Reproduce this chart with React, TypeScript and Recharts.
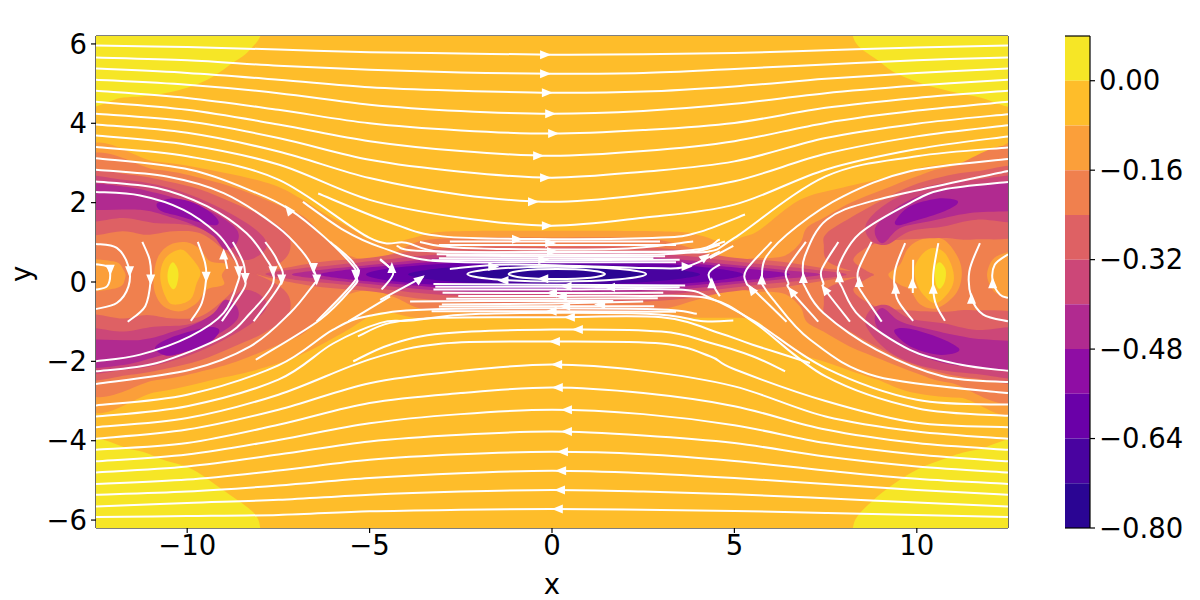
import { Bar, ComposedChart, ReferenceLine, Scatter, XAxis, YAxis } from "recharts";

type Pt = [number, number];

const xTicks = [-10, -5, 0, 5, 10];
const yTicks = [-6, -4, -2, 0, 2, 4, 6];
const xDomain = [-12.5, 12.5];
const yDomain = [-6.2, 6.2];

const colorbarTicks = [0, -0.16, -0.32, -0.48, -0.64, -0.8];
const bandWidths = [0.08, -0.08, -0.08, -0.08, -0.08, -0.08, -0.08, -0.08, -0.08, -0.08, -0.08];
const bandColors = ["#f6e626", "#febd2a", "#fb9f3a", "#f0804e", "#de6164", "#cc4778", "#b12a90", "#8f0da4", "#6a00a8", "#4903a0", "#2a0593"];

// filled contour outlines, in x/y of the plot
const base: Pt[] = [[-14, -8], [14, -8], [14, 8], [-14, 8]];
const yellowTL: Pt[] = [[-13, 7], [-8, 6.6], [-8, 6.19], [-8.36, 5.78], [-8.74, 5.53], [-9.29, 5.18], [-9.92, 4.92], [-10.83, 4.72], [-11.76, 4.65], [-13, 4.55]];
const yellowTR: Pt[] = [[13, 7], [8.2, 6.6], [8.25, 6.19], [8.44, 5.91], [8.91, 5.6], [9.35, 5.3], [10, 5.05], [10.72, 4.85], [11.65, 4.67], [13, 4.55]];
const yellowBL: Pt[] = [[-13, -7], [-8, -6.6], [-8, -6.19], [-8.09, -5.92], [-8.36, -5.67], [-9.02, -5.24], [-9.84, -4.73], [-10.66, -4.48], [-11.48, -4.23], [-13, -4.12]];
const yellowBR: Pt[] = [[13, -7], [8.2, -6.6], [8.25, -6.19], [8.36, -5.92], [8.72, -5.57], [9.26, -5.16], [10, -4.73], [10.9, -4.41], [11.65, -4.23], [13, -4.15]];

const outer1: Pt[] = [[-13, 3.08], [-10.83, 3.03], [-9.02, 2.76], [-7.65, 2.45], [-6.83, 2.07], [-6.28, 1.75], [-5.45, 1.32], [-4.99, 1.07], [-4.39, 0.99], [-3.76, 1.12], [-2.88, 1.27], [0, 1.29], [3.23, 1.27], [4.06, 1.17], [4.74, 0.99], [5.24, 1.14], [5.7, 1.32], [6.8, 2.07], [7.98, 2.38], [9.26, 2.65], [10.28, 2.91], [11.65, 3.03], [13, 3.13], [13, -2.92], [11.18, -2.92], [9.81, -2.77], [8.91, -2.46], [8.25, -2.26], [7.54, -2.03], [6.61, -1.76], [5.98, -1.33], [5.51, -0.95], [4.06, -0.9], [0, -0.9], [-2.71, -0.9], [-3.76, -0.9], [-4.44, -0.77], [-4.91, -0.82], [-5.73, -1.28], [-6.99, -1.88], [-8.09, -2.21], [-9.02, -2.41], [-10.83, -2.77], [-13, -2.89]];
const outer2: Pt[] = [[-13, 2.87], [-10.83, 2.83], [-9.46, 2.58], [-8.55, 2.33], [-7.63, 1.99], [-6.81, 1.65], [-6.26, 1.15], [-5.72, 0.73], [-4.99, 0.56], [-4.3, 0.75], [-3.5, 1.05], [-2, 1.12], [0, 1.12], [2, 1.12], [3, 1.05], [4, 0.8], [4.9, 0.55], [5.52, 0.6], [6.34, 0.65], [6.8, 0.98], [6.98, 1.36], [7.44, 1.61], [8.17, 1.99], [9.08, 2.33], [9.99, 2.66], [10.91, 2.9], [13, 3.04], [13, -2.68], [10.91, -2.54], [9.99, -2.3], [9.08, -1.97], [8.17, -1.63], [7.44, -1.25], [6.98, -1], [6.8, -0.62], [6.34, -0.29], [5.52, -0.24], [4.9, -0.2], [4, -0.44], [3, -0.69], [2, -0.76], [0, -0.76], [-2, -0.76], [-3.5, -0.69], [-4.3, -0.39], [-4.99, -0.2], [-5.72, -0.37], [-6.26, -0.79], [-6.81, -1.29], [-7.63, -1.63], [-8.55, -1.97], [-9.46, -2.22], [-10.83, -2.47], [-13, -2.51]];

// hills inside the lobes
const edgeL1: Pt[] = [[-13, 0.52], [-12.02, 0.52], [-11.75, 0.31], [-11.7, 0.1], [-11.93, -0.15], [-13, -0.19]];
const hillL1: Pt[] = [[-10.92, 0.14], [-10.79, 0.65], [-10.47, 0.94], [-10.01, 1], [-9.64, 0.82], [-9.37, 0.52], [-8.91, 0.44], [-9.05, 0.18], [-9, -0.07], [-9.46, -0.19], [-9.74, -0.53], [-10.19, -0.74], [-10.65, -0.61], [-10.88, -0.28]];
const hillL0: Pt[] = [[-10.74, 0.14], [-10.6, 0.6], [-10.19, 0.82], [-9.92, 0.65], [-9.64, 0.27], [-9.74, -0.03], [-9.92, -0.45], [-10.38, -0.57], [-10.6, -0.36]];
const hillLY: Pt[] = [[-10.39, 0.5], [-10.27, 0.35], [-10.24, 0.14], [-10.3, -0.11], [-10.39, -0.18], [-10.51, -0.03], [-10.54, 0.18], [-10.49, 0.39]];
const edgeR1: Pt[] = [[12.92, 0.7], [12.19, 0.65], [11.93, 0.23], [12.05, -0.15], [12.28, -0.32], [12.92, -0.4]];
const hillR1: Pt[] = [[9.22, 0.18], [9.54, 0.44], [9.77, 0.86], [10.18, 1.09], [10.73, 1.07], [11.14, 0.6], [11.23, 0.14], [11.05, -0.32], [10.54, -0.66], [10.09, -0.56], [9.81, -0.19], [9.54, -0.07]];
const hillR0: Pt[] = [[9.95, 0.39], [10.18, 0.73], [10.45, 0.86], [10.77, 0.73], [11, 0.27], [10.95, -0.15], [10.54, -0.53], [10.18, -0.32], [9.98, 0.02]];
const hillRY: Pt[] = [[10.5, 0.35], [10.63, 0.5], [10.79, 0.31], [10.77, 0.02], [10.63, -0.17], [10.52, -0.03]];

// crescents in the four lobes
const c3TL: Pt[] = [[-13, 2.75], [-11.56, 2.7], [-10.56, 2.54], [-9.64, 2.33], [-8.73, 1.99], [-7.91, 1.65], [-7.27, 1.23], [-7.18, 0.81], [-7.45, 0.48], [-8.09, 0.18], [-8.55, 0.14], [-8.59, 0.39], [-9, 0.81], [-9.64, 1.23], [-10.38, 1.28], [-11.11, 1.19], [-11.75, 1.28], [-13, 1.27]];
const c3BL: Pt[] = [[-13, -2.39], [-11.56, -2.34], [-10.56, -2.18], [-9.64, -1.97], [-8.73, -1.63], [-7.91, -1.29], [-7.27, -0.87], [-7.18, -0.45], [-7.45, -0.12], [-8.09, 0.18], [-8.55, 0.22], [-8.59, -0.03], [-9, -0.45], [-9.64, -0.87], [-10.38, -0.92], [-11.11, -0.83], [-11.75, -0.92], [-13, -0.91]];
const c3TR: Pt[] = [[13, 2.83], [11.64, 2.79], [10.73, 2.66], [9.81, 2.41], [8.9, 1.99], [8.17, 1.61], [7.53, 1.23], [7.45, 0.94], [7.62, 0.48], [8.81, 0.16], [8.26, 0.56], [8.9, 0.98], [9.72, 1.07], [10.73, 1.11], [11.55, 1.07], [13, 1.28]];
const c3BR: Pt[] = [[13, -2.47], [11.64, -2.43], [10.73, -2.3], [9.81, -2.05], [8.9, -1.63], [8.17, -1.25], [7.53, -0.87], [7.45, -0.58], [7.62, -0.12], [8.81, 0.2], [8.26, -0.2], [8.9, -0.62], [9.72, -0.71], [10.73, -0.75], [11.55, -0.71], [13, -0.92]];

const c4TL: Pt[] = [[-13, 2.62], [-11.75, 2.58], [-10.83, 2.45], [-9.92, 2.2], [-9, 1.82], [-8.18, 1.36], [-7.82, 0.98], [-8, 0.69], [-8.46, 0.56], [-8.91, 0.9], [-9.37, 1.23], [-10.01, 1.44], [-10.92, 1.49], [-11.75, 1.61], [-13, 1.57]];
const c4BL: Pt[] = [[-13, -2.26], [-11.75, -2.22], [-10.83, -2.09], [-9.92, -1.84], [-9, -1.46], [-8.18, -1], [-7.82, -0.62], [-8, -0.33], [-8.46, -0.2], [-8.91, -0.54], [-9.37, -0.87], [-10.01, -1.08], [-10.92, -1.13], [-11.75, -1.25], [-13, -1.21]];
const c4TR: Pt[] = [[13, 2.62], [11.64, 2.58], [10.27, 2.41], [9.26, 2.03], [8.62, 1.49], [8.72, 1.07], [9.17, 0.94], [9.81, 1.28], [10.73, 1.4], [11.64, 1.57], [13, 1.57]];
const c4BR: Pt[] = [[13, -2.36], [11.64, -2.32], [10.27, -2.15], [9.26, -1.77], [8.62, -1.13], [8.72, -0.71], [9.17, -0.58], [9.81, -0.92], [10.73, -1.04], [11.64, -1.21], [13, -1.21]];

const c5TL: Pt[] = [[-13, 2.45], [-11.75, 2.41], [-10.83, 2.24], [-9.92, 1.99], [-9.19, 1.7], [-8.64, 1.32], [-8.64, 0.98], [-8.96, 0.81], [-9.28, 1.15], [-9.74, 1.4], [-10.38, 1.61], [-11.29, 1.82], [-13, 1.86]];
const c5BL: Pt[] = [[-13, -2.13], [-11.75, -2.09], [-10.83, -1.88], [-9.92, -1.63], [-9.19, -1.34], [-8.64, -0.96], [-8.64, -0.62], [-8.96, -0.45], [-9.28, -0.79], [-9.74, -1.04], [-10.38, -1.25], [-11.29, -1.46], [-13, -1.5]];
const c5TR: Pt[] = [[13, 2.48], [11.64, 2.43], [10.63, 2.33], [9.72, 2.03], [8.99, 1.53], [8.85, 1.23], [9.08, 0.98], [9.54, 1.36], [10.36, 1.53], [11.46, 1.74], [13, 1.86]];
const c5BR: Pt[] = [[13, -2.2], [11.46, -2.14], [10.54, -2], [9.63, -1.66], [8.99, -1.24], [8.85, -0.87], [9.08, -0.66], [9.54, -0.99], [10.36, -1.2], [11.46, -1.41], [13, -1.58]];

const c6TL: Pt[] = [[-10.83, 1.97], [-10.47, 2.1], [-9.92, 2.03], [-9.46, 1.82], [-9.16, 1.57], [-9.21, 1.43], [-9.64, 1.5], [-10.19, 1.65], [-10.7, 1.78]];
const c6BL: Pt[] = [[-10.88, -1.66], [-10.47, -1.41], [-9.55, -1.16], [-9.19, -1.16], [-9.14, -1.29], [-9.46, -1.58], [-10.01, -1.75], [-10.56, -1.86]];
const c6TR: Pt[] = [[9.42, 1.55], [9.81, 1.91], [10.54, 2.1], [11.05, 2.07], [11.09, 1.95], [10.63, 1.74], [9.9, 1.53], [9.49, 1.43]];
const c6BR: Pt[] = [[9.4, -1.2], [9.81, -1.18], [10.63, -1.41], [11.14, -1.66], [11.05, -1.79], [10.54, -1.83], [9.9, -1.66], [9.49, -1.39]];

// the central strip
const strip3: Pt[] = [[-8.1, 0.22], [-7.4, 0.34], [-6.3, 0.51], [-5, 0.61], [-3.5, 0.81], [-2, 0.89], [0, 0.89], [2, 0.89], [3.5, 0.81], [5, 0.61], [6.3, 0.51], [7.5, 0.34], [8.81, 0.2], [7.5, 0.04], [6.3, -0.13], [5, -0.23], [3.5, -0.43], [2, -0.51], [0, -0.51], [-2, -0.51], [-3.5, -0.43], [-5, -0.23], [-6.3, -0.13], [-7.4, 0.04]];
const strip4: Pt[] = [[-7.86, 0.2], [-7, 0.33], [-6, 0.42], [-5, 0.52], [-3.5, 0.67], [-2, 0.74], [0, 0.74], [2, 0.74], [3.5, 0.67], [5, 0.52], [6, 0.42], [7, 0.33], [8.08, 0.19], [7, 0.05], [6, -0.04], [5, -0.14], [3.5, -0.29], [2, -0.36], [0, -0.36], [-2, -0.36], [-3.5, -0.29], [-5, -0.14], [-6, -0.04], [-7, 0.05]];
const strip5: Pt[] = [[-7.13, 0.19], [-6.3, 0.31], [-5, 0.43], [-3.5, 0.57], [-2, 0.64], [0, 0.64], [2, 0.64], [3.5, 0.57], [5, 0.43], [6.3, 0.31], [7.35, 0.19], [6.3, 0.07], [5, -0.05], [3.5, -0.19], [2, -0.26], [0, -0.26], [-2, -0.26], [-3.5, -0.19], [-5, -0.05], [-6.3, 0.07]];
const strip6: Pt[] = [[-6.36, 0.19], [-5.5, 0.32], [-4.5, 0.41], [-3, 0.52], [-1.5, 0.57], [0, 0.57], [1.5, 0.57], [3, 0.52], [4.5, 0.41], [5.5, 0.32], [6.52, 0.19], [5.5, 0.06], [4.5, -0.03], [3, -0.14], [1.5, -0.19], [0, -0.19], [-1.5, -0.19], [-3, -0.14], [-4.5, -0.03], [-5.5, 0.06]];
const strip7: Pt[] = [[-5.1, 0.19], [-4.5, 0.34], [-3, 0.46], [-1.5, 0.52], [0, 0.52], [1.5, 0.52], [3, 0.46], [4.5, 0.34], [5.24, 0.19], [4.5, 0.04], [3, -0.08], [1.5, -0.14], [0, -0.14], [-1.5, -0.14], [-3, -0.08], [-4.5, 0.04]];
const strip8: Pt[] = [[-3.94, 0.19], [-3, 0.35], [-1.5, 0.43], [0, 0.45], [1.5, 0.43], [3, 0.35], [4.06, 0.19], [3, 0.03], [1.5, -0.05], [0, -0.07], [-1.5, -0.05], [-3, 0.03]];
const strip9: Pt[] = [[-2.29, 0.19], [-1, 0.34], [0.13, 0.36], [1.3, 0.34], [2.55, 0.19], [1.3, 0.04], [0.13, 0.02], [-1, 0.04]];

// long streamlines share one set of x values
const streamX = [-12.5, -10, -7.5, -5, -2.5, 0, 2.5, 5, 7.5, 10, 12.5];
const longLines = [
  [5.96, 5.92, 5.86, 5.79, 5.76, 5.73, 5.74, 5.77, 5.84, 5.91, 5.96],
  [5.66, 5.59, 5.45, 5.35, 5.28, 5.25, 5.27, 5.37, 5.48, 5.59, 5.66],
  [5.38, 5.27, 5.1, 4.91, 4.82, 4.77, 4.8, 4.93, 5.12, 5.27, 5.38],
  [5.1, 4.97, 4.76, 4.47, 4.31, 4.24, 4.31, 4.49, 4.76, 4.95, 5.1],
  [4.82, 4.64, 4.34, 4, 3.82, 3.74, 3.83, 4.01, 4.39, 4.64, 4.82],
  [4.54, 4.34, 3.97, 3.55, 3.3, 3.18, 3.3, 3.55, 4.01, 4.32, 4.54],
  [4.24, 4.05, 3.63, 3.08, 2.78, 2.63, 2.78, 3.04, 3.63, 3.99, 4.23],
  [3.97, 3.76, 3.29, 2.62, 2.2, 2.02, 2.2, 2.54, 3.23, 3.67, 3.95],
  [3.69, 3.46, 2.96, 2.07, 1.62, 1.42, 1.62, 1.95, 2.83, 3.35, 3.67],
  [-5.92, -5.9, -5.87, -5.78, -5.74, -5.72, -5.74, -5.77, -5.82, -5.87, -5.92],
  [-5.66, -5.57, -5.49, -5.36, -5.28, -5.24, -5.28, -5.35, -5.45, -5.56, -5.66],
  [-5.36, -5.28, -5.13, -4.94, -4.82, -4.76, -4.82, -4.94, -5.09, -5.24, -5.36],
  [-5.09, -4.98, -4.75, -4.48, -4.34, -4.28, -4.34, -4.51, -4.75, -4.96, -5.09],
  [-4.8, -4.65, -4.35, -4.02, -3.85, -3.77, -3.87, -4.06, -4.4, -4.65, -4.8],
  [-4.52, -4.35, -3.98, -3.56, -3.33, -3.22, -3.33, -3.61, -4.06, -4.35, -4.52],
  [-4.23, -4.06, -3.6, -3.05, -2.8, -2.66, -2.8, -3.13, -3.72, -4.06, -4.23],
  [-3.95, -3.72, -3.22, -2.55, -2.24, -2.08, -2.24, -2.63, -3.39, -3.77, -3.95],
];

const innerLines: Pt[][] = [
  [[-12.5, 3.4], [-10, 3.17], [-7.5, 2.58], [-5, 1.11], [-4, 0.99], [-3, 0.76], [0, 0.76], [3, 0.76], [4.3, 0.77], [5, 1.11], [7.5, 2.66], [10, 3.17], [12.5, 3.39]],
  [[-6.41, 2.23], [-4.44, 1.5], [-3, 1.15], [0, 1.08], [3, 1.12], [4, 1.25], [5.29, 1.7]],
  [[-6.83, 2.02], [-5.7, 1.3], [-4.7, 0.88], [-3.2, 0.53], [0, 0.5], [3.4, 0.5]],
  [[-5.32, -1.37], [-4.44, -1.03], [-3, -0.9], [0, -0.89], [3, -0.89], [4.6, -1.29], [5.5, -1.58], [7.07, -2.04]],
  [[-5.45, -2], [-4.44, -1.58], [-3, -1.3], [0, -1.2], [3, -1.25], [4.33, -1.53], [5.5, -1.87], [6.39, -2.25]],
  [[-12.5, -3.66], [-10, -3.43], [-7.5, -2.84], [-5, -1.95], [-3, -1.55], [0, -1.5], [3, -1.55], [4.33, -1.87], [5, -2.2], [7.5, -3], [10, -3.55], [12.5, -3.66]],
  [[-12.5, -3.39], [-10, -3.13], [-7.5, -2.46], [-6, -1.55], [-4.7, -1.03], [-3.85, -0.97], [-1.97, -0.8], [2.6, -0.8], [4.15, -0.99], [4.97, -0.97]],
  [[-12.5, -3.11], [-10, -2.84], [-7.5, -2.1], [-6, -1.2], [-5, -0.85], [-3.02, -0.68], [2.6, -0.68], [3.97, -0.8]],
  [[-3.25, -0.19], [0, -0.19], [3.42, -0.19], [4.33, -0.4], [5.56, -1], [7.5, -2.17], [10, -2.97], [12.5, -3.09]],
  [[-2.57, -0.35], [0, -0.35], [2.5, -0.35], [4.33, -0.42], [5.56, -1.03], [7.5, -2.38], [10, -3.18], [12.5, -3.37]],
];

const stripLines: Pt[][] = [
  [[-2.8, 1.02], [0, 1.02], [2.96, 1.02]],
  [[-3.62, 1.01], [-2.43, 0.86], [1.68, 0.83], [3.87, 1.02]],
  [[-4.26, 0.91], [-3.16, 0.77], [3.33, 0.77], [4.6, 1.07]],
  [[-3.16, 0.7], [3.05, 0.7], [4.6, 0.94]],
  [[-3.1, 0.6], [2.78, 0.6]],
  [[-3.1, 0.93], [0, 0.93], [3.4, 0.93]],
  [[-2.9, 0.66], [0, 0.65], [3.1, 0.65]],
  [[-3.3, 0.55], [0, 0.55], [3.5, 0.56]],
  [[-2.8, 0.33], [-1.06, 0.44], [2.6, 0.35], [3.69, 0.39], [4.6, 0.77]],
  [[-3.25, -0.05], [0, -0.07], [3.65, -0.09]],
  [[-3.2, -0.12], [0, -0.12], [3.5, -0.13]],
  [[-3, -0.27], [0, -0.28], [3.05, -0.27]],
  [[-2.9, -0.42], [0, -0.42], [2.9, -0.41]],
  [[-3.89, -0.49], [-2, -0.48], [1.68, -0.48]],
  [[-3.02, -0.57], [0, -0.54], [2.5, -0.49]],
  [[-3.1, -0.62], [0, -0.61], [2.8, -0.61]],
  [[-3.3, -0.74], [0, -0.74], [3.4, -0.75]],
  [[-4.71, -0.45], [-3.53, 0.13]],
  [[-4.71, 0.56], [-4.35, 0.23], [-4.67, -0.19]],
  [[4.6, 0.44], [4.29, 0.18], [4.6, -0.36]],
  [[-4.71, 0.58], [-4.44, 0.35]],
  [[-5.58, -0.99], [-4.44, -0.36]],
  [[4.97, 0.91], [4.33, 0.6]],
  [[4.74, 1.02], [4.33, 0.9]],
];

const closedLoops: Pt[][] = [
  [[-2.32, 0.2], [-1.6, 0.33], [0.13, 0.385], [1.86, 0.33], [2.58, 0.2], [1.86, 0.07], [0.13, 0.015], [-1.6, 0.07]],
  [[-1.19, 0.2], [-0.8, 0.29], [0.13, 0.325], [1.06, 0.29], [1.45, 0.2], [1.06, 0.11], [0.13, 0.075], [-0.8, 0.11]],
];

const leftArcs: Pt[][] = [
  [[-12.5, 2.27], [-11.29, 2.18], [-10.1, 1.82], [-9.19, 1.23], [-8.78, 0.73], [-8.59, 0.35], [-8.59, 0.06], [-9, -0.78], [-9.92, -1.37], [-11.29, -1.83], [-12.5, -2]],
  [[-8.75, 1.01], [-8.46, 0.48], [-8.41, 0.06], [-8.46, -0.19], [-9.05, -0.99]],
  [[-12.5, 2.53], [-10.83, 2.37], [-9.46, 1.91], [-8.37, 1.23], [-7.82, 0.56], [-7.65, 0.27], [-7.68, -0.11], [-8.27, -0.78], [-9, -1.37], [-10.83, -2.04], [-12.5, -2.25]],
  [[-7.86, 1.01], [-7.54, 0.56], [-7.41, 0.02], [-8.18, -0.99]],
  [[-12.5, 2.83], [-10.56, 2.66], [-9, 2.24], [-7.54, 1.4], [-6.81, 0.73], [-6.54, 0.31], [-6.45, 0.06], [-6.54, -0.07], [-7.18, -0.78], [-8.27, -1.62], [-9.92, -2.21], [-12.5, -2.57]],
  [[-12.5, 3.12], [-9.92, 2.83], [-8.09, 2.24], [-7.18, 1.82], [-6.26, 1.15], [-5.44, 0.39], [-5.35, 0.1], [-5.44, -0.11], [-6.36, -0.95], [-8.12, -1.96]],
  [[-6.08, 1.01], [-5.44, 0.48], [-5.38, 0.06], [-6.45, -0.99]],
  [[-12.5, 0.45], [-12.2, 0.39], [-12.11, 0.18], [-12.2, -0.11], [-12.5, -0.19]],
  [[-12.5, 0.96], [-11.93, 0.86], [-11.61, 0.39], [-11.61, -0.11], [-11.93, -0.53], [-12.5, -0.68]],
  [[-11.23, 1.01], [-11.03, 0.56], [-11, 0.06], [-11.15, -0.61], [-11.63, -1]],
  [[-9.71, 1.01], [-9.51, 0.48], [-9.48, 0.1], [-9.6, -0.53], [-9.9, -0.98]],
  [[-9, 0.77], [-8.9, 0.33]],
];

const rightArcs: Pt[][] = [
  [[12.5, 3.1], [9.81, 2.79], [7.98, 2.16], [6.71, 1.4], [5.88, 0.65], [5.75, 0.1], [5.75, -0.03], [6.07, -0.45], [7.07, -1.45], [8.9, -2.38], [12.5, -2.8]],
  [[12.5, 2.8], [8.9, 2.07], [7.53, 1.57], [6.93, 0.65], [6.89, 0.1], [6.93, -0.11], [7.44, -0.78], [8.9, -1.71], [10.73, -2.38], [12.5, -2.52]],
  [[12.5, 2.52], [10.73, 2.33], [9.81, 1.99], [8.44, 1.23], [7.89, 0.48], [7.85, 0.1], [7.94, -0.11], [8.44, -0.87], [9.81, -1.71], [11.18, -2.08], [12.5, -2.24]],
  [[6.02, 1.01], [5.33, 0.31], [5.33, -0.03], [5.52, -0.19], [6.43, -1]],
  [[6.96, 1.01], [6.43, 0.31], [6.48, -0.03], [6.52, -0.19], [7.3, -1]],
  [[7.85, 1.01], [7.39, 0.31], [7.44, -0.03], [7.48, -0.19], [8.17, -1]],
  [[8.76, 1.01], [8.4, 0.31], [8.4, -0.03], [8.44, -0.19], [9.04, -1]],
  [[9.68, 0.98], [9.4, 0.27], [9.45, -0.4], [9.9, -0.98]],
  [[9.9, 0.56], [9.89, -0.28]],
  [[10.59, 0.98], [10.45, 0.18], [10.5, -0.49], [10.77, -0.98]],
  [[11.73, 0.98], [11.44, 0.27], [11.5, -0.4], [11.82, -0.82], [12.5, -0.99]],
  [[12.5, 0.7], [12.14, 0.44], [12.08, 0.02], [12.28, -0.32], [12.5, -0.4]],
];

// arrow heads: x, y and the flow direction there
const arrowsRight: Pt[] = [[-0.19, 5.73], [-0.19, 5.25], [-0.14, 4.77], [-0.05, 4.24], [0.03, 3.74], [-0.38, 3.18], [-0.19, 2.63], [-0.52, 2.02], [-0.14, 1.42], [-0.96, 1.08], [-1.61, 0.39], [3.69, 0.39], [-0.05, 0.98], [0, 0.77], [-0.24, 0.56]];
const arrowsLeft: Pt[] = [[0.16, -5.72], [0.22, -5.24], [0.25, -4.76], [0.3, -4.28], [0.41, -3.77], [0.41, -3.22], [0.16, -2.66], [0.14, -2.08], [0.08, -1.5], [0.71, -1.2], [0.49, -0.89], [-1.33, 0.04], [-0.24, 0.08], [1.59, -0.13], [1.32, -0.57], [-0.01, -0.74], [0.4, -0.11], [0, -0.28], [0.27, -0.36], [0.36, -0.61]];
const arrowsDown: Pt[] = [[-12.11, 0.31], [-11.58, 0.27], [-11, 0.06], [-9.48, 0.13], [-8.59, 0.27], [-8.41, 0.1], [-7.65, 0.27], [-7.41, 0.06], [-6.54, 0.35], [-6.45, 0.06], [-5.38, 0.18]];
const arrowsUp: Pt[] = [[-9, 0.69], [-4.39, 0.35], [4.38, -0.03], [5.75, 0.06], [6.89, 0.1], [7.88, 0.12], [8.42, 0], [9.42, -0.17], [9.88, -0.03], [10.45, -0.17], [11.5, -0.42], [12.08, -0.03]];
const arrowsUpLeft: Pt[] = [[-7.22, 1.82], [5.47, -0.19], [6.57, -0.24], [7.48, -0.19]];
const arrowsUpRight: Pt[] = [[-3.62, 0.08], [4.2, 0.63]];

const contourLayers: { color: string; shapes: Pt[][] }[] = [
  { color: bandColors[1], shapes: [base] },
  { color: bandColors[0], shapes: [yellowTL, yellowTR, yellowBL, yellowBR] },
  { color: bandColors[2], shapes: [outer1] },
  { color: bandColors[3], shapes: [outer2] },
  { color: bandColors[2], shapes: [edgeL1, hillL1, edgeR1, hillR1] },
  { color: bandColors[1], shapes: [hillL0, hillR0] },
  { color: bandColors[0], shapes: [hillLY, hillRY] },
  { color: bandColors[4], shapes: [c3TL, c3BL, c3TR, c3BR, strip3] },
  { color: bandColors[5], shapes: [c4TL, c4BL, c4TR, c4BR, strip4] },
  { color: bandColors[6], shapes: [c5TL, c5BL, c5TR, c5BR, strip5] },
  { color: bandColors[7], shapes: [c6TL, c6BL, c6TR, c6BR, strip6] },
  { color: bandColors[8], shapes: [strip7] },
  { color: bandColors[9], shapes: [strip8] },
  { color: bandColors[10], shapes: [strip9] },
];

const arrowGroups: { dx: number; dy: number; points: Pt[] }[] = [
  { dx: 1, dy: 0, points: arrowsRight },
  { dx: -1, dy: 0, points: arrowsLeft },
  { dx: 0, dy: -1, points: arrowsDown },
  { dx: 0, dy: 1, points: arrowsUp },
  { dx: -0.6, dy: 0.8, points: arrowsUpLeft },
  { dx: 0.8, dy: 0.6, points: arrowsUpRight },
];

const FONT = "'DejaVu Sans', sans-serif";
const tickStyle = { fontFamily: FONT, fontSize: 27.5, fill: "#000" };
const minus = (s: string) => s.replace("-", "\u2212");

const toRows = (pts: Pt[]) => pts.map(([x, y]) => ({ x, y }));
const allLines: Pt[][] = [
  ...longLines.map((ys) => ys.map((y, i) => [streamX[i], y] as Pt)),
  ...innerLines,
  ...stripLines,
  ...leftArcs,
  ...rightArcs,
];

// catmull-rom through the scaled points
function smoothPath(points: { x: number; y: number }[], closed: boolean) {
  const n = points.length;
  const at = (i: number) => (closed ? points[(i + n) % n] : points[Math.max(0, Math.min(n - 1, i))]);
  let d = `M${points[0].x},${points[0].y}`;
  const last = closed ? n : n - 1;
  for (let i = 0; i < last; i++) {
    const p0 = at(i - 1);
    const p1 = at(i);
    const p2 = at(i + 1);
    const p3 = at(i + 2);
    const c1x = p1.x + (p2.x - p0.x) / 6;
    const c1y = p1.y + (p2.y - p0.y) / 6;
    const c2x = p2.x - (p3.x - p1.x) / 6;
    const c2y = p2.y - (p3.y - p1.y) / 6;
    d += `C${c1x},${c1y} ${c2x},${c2y} ${p2.x},${p2.y}`;
  }
  return closed ? d + "Z" : d;
}

const noDot = () => <g />;

function arrowShape(dx: number, dy: number) {
  return (props: any) => {
    const angle = (Math.atan2(-dy, dx) * 180) / Math.PI;
    return (
      <path
        d="M6,0L-5,-4.5L-5,4.5Z"
        fill="#fff"
        transform={`translate(${props.cx},${props.cy}) rotate(${angle})`}
      />
    );
  };
}

function FieldChart() {
  return (
    <ComposedChart width={1030} height={600} margin={{ top: 36, right: 22, bottom: 0, left: 0 }}>
      {contourLayers.flatMap((layer, li) =>
        layer.shapes.map((shape, si) => (
          <Scatter
            key={`band-${li}-${si}`}
            data={toRows(shape)}
            isAnimationActive={false}
            shape={noDot}
            line={(p: any) => <path d={smoothPath(p.points, true)} fill={layer.color} stroke="none" />}
          />
        ))
      )}
      {allLines.map((pts, i) => (
        <Scatter
          key={`line-${i}`}
          data={toRows(pts)}
          isAnimationActive={false}
          shape={noDot}
          line={(p: any) => <path d={smoothPath(p.points, false)} fill="none" stroke="#fff" strokeWidth={2} />}
        />
      ))}
      {closedLoops.map((pts, i) => (
        <Scatter
          key={`loop-${i}`}
          data={toRows(pts)}
          isAnimationActive={false}
          shape={noDot}
          line={(p: any) => <path d={smoothPath(p.points, true)} fill="none" stroke="#fff" strokeWidth={2} />}
        />
      ))}
      {arrowGroups.map((g, i) => (
        <Scatter key={`arrows-${i}`} data={toRows(g.points)} isAnimationActive={false} shape={arrowShape(g.dx, g.dy)} />
      ))}
      <ReferenceLine y={yDomain[1]} stroke="#000" strokeWidth={1.2} />
      <ReferenceLine x={xDomain[1]} stroke="#000" strokeWidth={1.2} />
      <XAxis
        type="number"
        dataKey="x"
        domain={xDomain}
        allowDataOverflow
        ticks={xTicks}
        height={72}
        tickSize={5}
        tickMargin={2}
        tick={tickStyle}
        stroke="#000"
        strokeWidth={1.2}
        tickFormatter={(v: number) => minus(String(v))}
        label={{ value: "x", position: "insideBottom", offset: 6, style: tickStyle }}
      />
      <YAxis
        type="number"
        dataKey="y"
        domain={yDomain}
        allowDataOverflow
        ticks={yTicks}
        width={96}
        tickSize={5}
        tickMargin={4}
        tick={tickStyle}
        stroke="#000"
        strokeWidth={1.2}
        tickFormatter={(v: number) => minus(String(v))}
        label={{ value: "y", angle: -90, position: "insideLeft", offset: 26, dx: -5, style: tickStyle }}
      />
    </ComposedChart>
  );
}

const colorbarRow = [Object.fromEntries(bandWidths.map((w, i) => [`band${i}`, w]))];

function Colorbar() {
  return (
    <ComposedChart
      width={160}
      height={600}
      data={colorbarRow}
      stackOffset="sign"
      barCategoryGap={0}
      margin={{ top: 36, right: 0, bottom: 72, left: 25 }}
    >
      <XAxis hide type="category" />
      {bandWidths.map((_, i) => (
        <Bar key={i} dataKey={`band${i}`} stackId="bar" fill={bandColors[i]} isAnimationActive={false} />
      ))}
      <ReferenceLine y={0.08} stroke="#000" strokeWidth={1.2} />
      <ReferenceLine y={-0.8} stroke="#000" strokeWidth={1.2} />
      <YAxis yAxisId="frame" orientation="left" width={0} domain={[-0.8, 0.08]} tick={false} tickLine={false} stroke="#000" strokeWidth={1.2} />
      <YAxis
        orientation="right"
        type="number"
        domain={[-0.8, 0.08]}
        allowDataOverflow
        ticks={colorbarTicks}
        width={110}
        tickSize={5}
        tickMargin={4}
        tick={tickStyle}
        stroke="#000"
        strokeWidth={1.2}
        interval={0}
        tickFormatter={(v: number) => minus(v.toFixed(2))}
      />
    </ComposedChart>
  );
}

export default function App() {
  return (
    <div style={{ position: "absolute", left: 0, top: 0, width: 1200, height: 600, background: "#fff" }}>
      <FieldChart />
      <div style={{ position: "absolute", left: 1040, top: 0 }}>
        <Colorbar />
      </div>
    </div>
  );
}
